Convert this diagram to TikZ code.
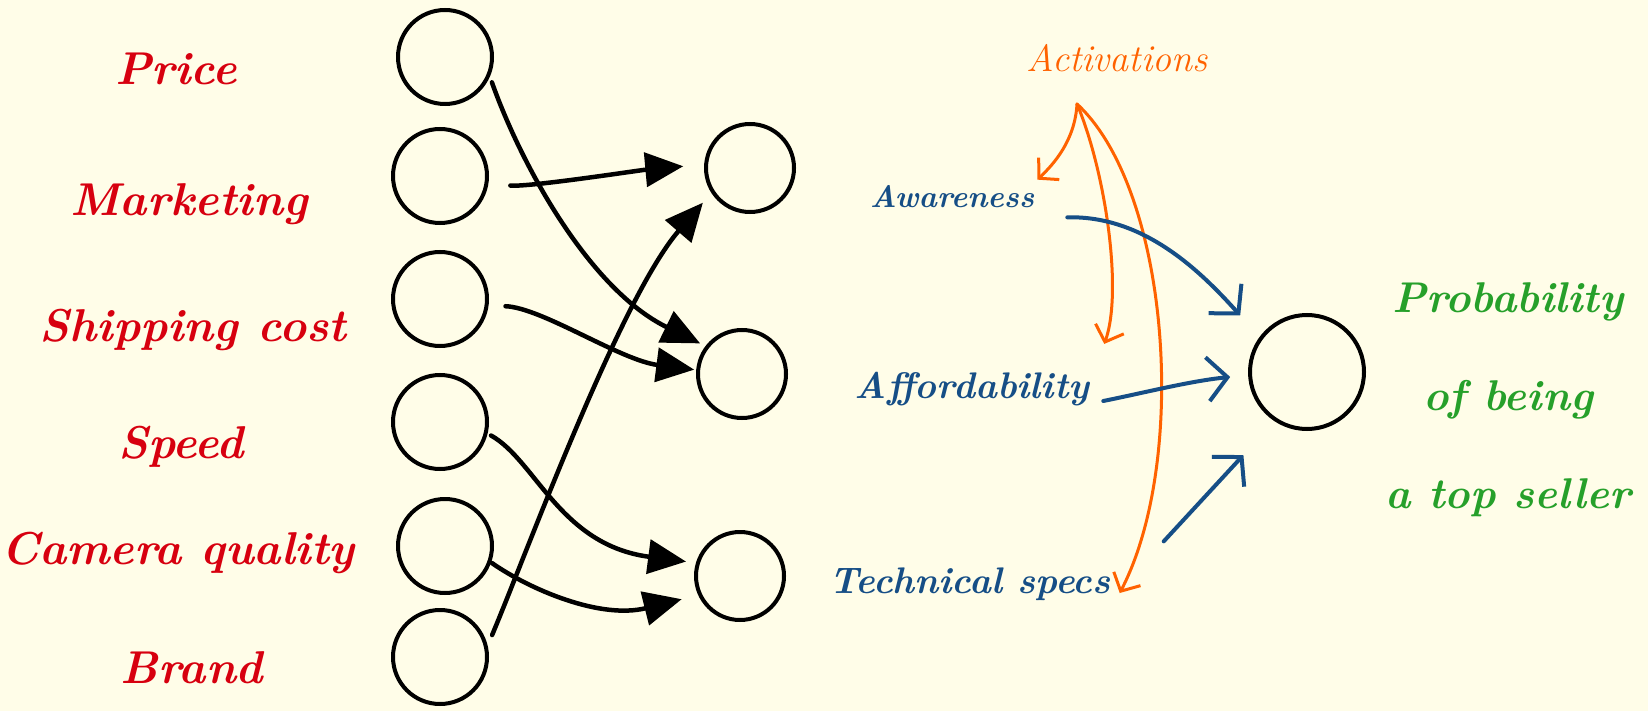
\documentclass[tikz,border=0pt]{standalone}
\usepackage{fontspec}
\usetikzlibrary{arrows.meta}
\definecolor{bgc}{RGB}{255,253,232}
\definecolor{redc}{RGB}{215,0,15}
\definecolor{orangec}{RGB}{255,98,0}
\definecolor{bluec}{RGB}{22,78,134}
\definecolor{greenc}{RGB}{38,160,42}
\tikzset{
  neuron/.style={circle, draw=black, line width=4pt, inner sep=0pt, outer sep=0pt, minimum size=94pt},
  hidn/.style={neuron, minimum size=88pt},
  outn/.style={neuron, minimum size=114pt},
  inlabel/.style={text=redc, font=\fontsize{46}{56}\selectfont\bfseries\itshape, inner sep=0pt},
  midlabel/.style={text=bluec, font=\fontsize{37}{44}\selectfont\bfseries\itshape, inner sep=0pt},
  actlabel/.style={text=orangec, font=\fontsize{38}{46}\selectfont\itshape, inner sep=0pt},
  outlabel/.style={text=greenc, font=\fontsize{43}{98}\selectfont\bfseries\itshape, inner sep=0pt, align=center},
  blk/.style={draw=black, line width=4.5pt, line cap=round, -{Triangle[length=38pt,width=34pt]}},
  org/.style={draw=orangec, line width=3pt, line cap=round, line join=round, -{Straight Barb[length=14pt,width=30pt]}},
  blu/.style={draw=bluec, line width=4pt, line cap=round, line join=round, -{Straight Barb[length=20pt,width=44pt]}}
}
\begin{document}
\begin{tikzpicture}[x=1pt,y=-1pt]
\fill[bgc] (0,0) rectangle (1648,711);
\useasboundingbox (0,0) rectangle (1648,711);

% input neurons
\node[neuron] (c1) at (445,57) {};
\node[neuron] (c2) at (440,176) {};
\node[neuron] (c3) at (440,299) {};
\node[neuron] (c4) at (440,422) {};
\node[neuron] (c5) at (445,546) {};
\node[neuron] (c6) at (440,657) {};
% hidden neurons
\node[hidn] (h1) at (750,168) {};
\node[hidn] (h2) at (742,374) {};
\node[hidn] (h3) at (740,576) {};
% output neuron
\node[outn] (out) at (1307,372) {};

% input labels
\node[inlabel] (price) at (176,69) {Price};
\node[inlabel] (mkt) at (189,204) {Marketing};
\node[inlabel] (ship) at (193,330) {Shipping cost};
\node[inlabel] (speed) at (181,447) {Speed};
\node[inlabel] (cam) at (178,553) {Camera quality};
\node[inlabel] (brand) at (192,668) {Brand};

% hidden labels
\node[midlabel, font=\fontsize{31}{38}\selectfont\bfseries\itshape] (aw) at (952,197) {Awareness};
\node[midlabel] (af) at (972,389) {Affordability};
\node[midlabel] (ts) at (970,584) {Technical specs};
\node[actlabel] (act) at (1117,58) {Activations};
\coordinate (apex) at (1077,104);

% output label
\node[outlabel] (prob) at (1508,400) {Probability\\ of being\\ a top seller};

% input -> hidden connectors
\draw[blk, shorten <=9pt, shorten >=8pt] (c1.-21) .. controls +(33,93) and +(-117,-57) .. (h2.142);
\draw[blk, shorten <=24pt, shorten >=23pt] (c2.-8) .. controls +(40,5) and +(-66,6) .. (h1.175);
\draw[blk, shorten <=19pt, shorten >=4pt] (c3.-8) .. controls +(55,2) and +(-78,-10) .. (h2.175);
\draw[blk, shorten <=6pt, shorten >=12pt] (c4.-13) .. controls +(50,28) and +(-138,-18) .. (h3.163.5);
\draw[blk, shorten <=3pt, shorten >=19pt] (c5.-19) .. controls +(40,28) and +(-100,25) .. (h3.205);
\draw[blk, shorten <=15pt, shorten >=15pt] (c6.10) .. controls +(40,-95) and +(-93,108) .. (h1.212.6);

% activations pointers
\draw[org] (apex) .. controls +(-2,36) and +(17,-16) .. ([shift={(3,-6)}]aw.north east);
\draw[org] (apex) .. controls +(28,66) and +(19,-53) .. ([shift={(15,-28)}]af.north east);
\draw[org] (apex) .. controls +(93,86) and +(69,-133) .. ([shift={(9,9)}]ts.east);

% hidden -> output connectors
\draw[blu, shorten >=31pt] ([shift={(33,9)}]aw.south east) .. controls +(76,-2) and +(-61,-68) .. (out.144);
\draw[blu, shorten >=20pt] ([shift={(14,12)}]af.east) .. controls +(40,-8) and +(-60,6) .. (out.183);
\draw[blu, shorten >=48pt] ([shift={(53,-26)}]ts.north east) -- (out.237);
\end{tikzpicture}
\end{document}
